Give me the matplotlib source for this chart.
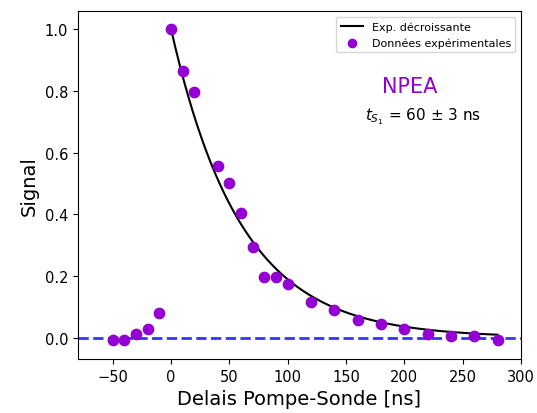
import numpy as np
import matplotlib
matplotlib.use("Agg")
import matplotlib.pyplot as plt

# Experimental points (pump-probe delay in ns, normalised signal)
delais = [-50, -40, -30, -20, -10, 0, 10, 20, 40, 50, 60, 70, 80, 90, 100,
          120, 140, 160, 180, 200, 220, 240, 260, 280]
signal = [-0.008, -0.008, 0.012, 0.028, 0.08, 1.0, 0.865, 0.797, 0.557, 0.503, 0.403,
          0.294, 0.196, 0.196, 0.175, 0.117, 0.091, 0.056, 0.043, 0.029, 0.013,
          0.006, 0.006, -0.008]

# Fit parameters
tau = 60
tau_err = 3
t_fit = np.linspace(0, 280, 300)
fit = np.exp(-t_fit / tau)

fig = plt.figure(figsize=(5.37, 4.14), dpi=100)
ax = fig.add_axes([0.145, 0.13, 0.825, 0.841])

ax.plot(t_fit, fit, color="black", lw=1.5, label="Exp. décroissante")
ax.scatter(delais, signal, s=55, color="darkviolet", label="Données expérimentales", zorder=3)
ax.axhline(0, color="blue", ls="--", lw=2, alpha=0.8)

ax.set_xlim(-80, 300)
ax.set_ylim(-0.07, 1.06)
ax.set_xlabel("Delais Pompe-Sonde [ns]", fontsize=14)
ax.set_ylabel("Signal", fontsize=14)
ax.tick_params(labelsize=10.5)

ax.legend(loc="upper right", fontsize=8, markerscale=0.8)
ax.text(0.75, 0.785, "NPEA", color="darkviolet", fontsize=15,
        ha="center", va="center", transform=ax.transAxes)
ax.text(0.78, 0.70, r"$t_{S_1}$ = %d ± %d ns" % (tau, tau_err), fontsize=11,
        ha="center", va="center", transform=ax.transAxes)

plt.savefig("out.png", dpi=100)
